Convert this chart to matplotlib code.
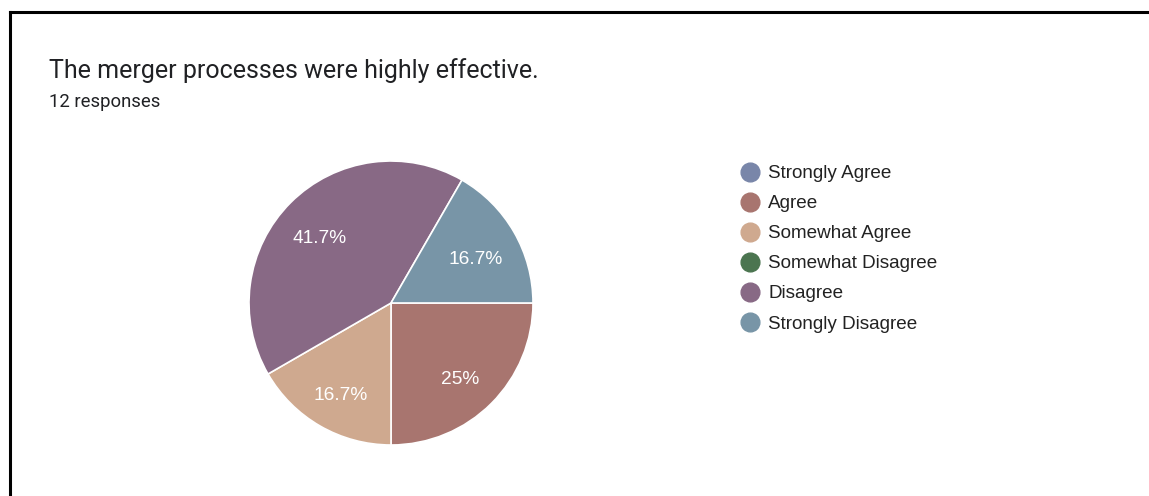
import matplotlib
matplotlib.use("Agg")
import matplotlib.pyplot as plt
from matplotlib.lines import Line2D
from matplotlib.transforms import offset_copy

# survey data (12 responses)
categories = ["Strongly Agree", "Agree", "Somewhat Agree",
              "Somewhat Disagree", "Disagree", "Strongly Disagree"]
counts = [0, 3, 2, 0, 5, 2]
colors = ["#7986a9", "#a8756f", "#cfa98f", "#4b7550", "#886985", "#7895a7"]

title = "The merger processes were highly effective."
subtitle = "12 responses"

W, H = 1149, 496
fig = plt.figure(figsize=(W / 100, H / 100), dpi=100)
fig.patch.set_facecolor("white")

# card border (top and left edges visible)
fig.add_artist(Line2D([10 / W, 1], [1 - 12 / H, 1 - 12 / H], color="black", lw=2.2))
fig.add_artist(Line2D([10 / W, 10 / W], [0, 1 - 12 / H], color="black", lw=2.2))

fig.text(49 / W, 1 - 78 / H, title, fontsize=18, family="Roboto",
         color="#202124", va="baseline")
fig.text(49 / W, 1 - 107 / H, subtitle, fontsize=13.3, family="Roboto",
         color="#202124", va="baseline")

# pie
cx, cy, r = 391, 303, 142
ax = fig.add_axes([(cx - r) / W, 1 - (cy + r) / H, 2 * r / W, 2 * r / H])
vals = [c for c in counts if c > 0]
cols = [col for c, col in zip(counts, colors) if c > 0]


def fmt(p):
    s = f"{p:.1f}"
    return (s[:-2] if s.endswith(".0") else s) + "%"


wedges, texts, autotexts = ax.pie(
    vals, colors=cols, startangle=0, counterclock=False,
    autopct=fmt, pctdistance=0.7,
    wedgeprops=dict(edgecolor="white", linewidth=1.2),
    textprops=dict(color="white", fontsize=13.8, family="Liberation Sans"))
for t in autotexts:
    t.set_va("center_baseline")
    t.set_transform(offset_copy(ax.transData, fig=fig, x=-1, y=-4, units="dots"))
ax.set_aspect("equal")
ax.set_xlim(-1, 1)
ax.set_ylim(-1, 1)

# legend
handles = [Line2D([], [], marker="o", linestyle="none", markersize=13.5,
                  markerfacecolor=c, markeredgecolor=c) for c in colors]
fig.legend(handles, categories, loc="upper left",
           bbox_to_anchor=(739 / W, 1 - 165 / H), frameon=False,
           prop=dict(family="Liberation Sans", size=13.6),
           labelspacing=0.68, handletextpad=0.35, handlelength=1.2,
           borderpad=0, borderaxespad=0, labelcolor="#222222")

fig.savefig("out.png", dpi=100)
